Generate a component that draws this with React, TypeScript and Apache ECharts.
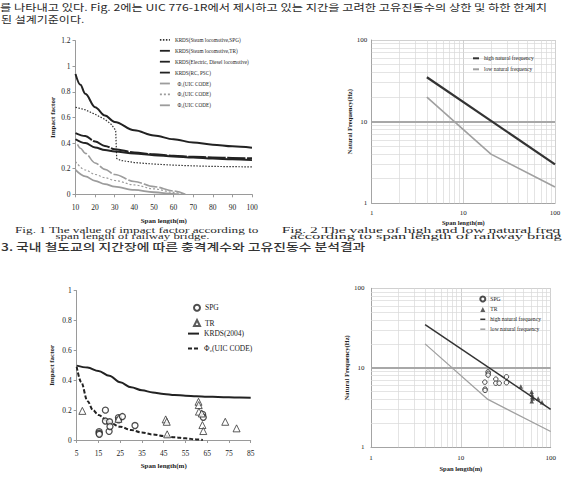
import React, { useEffect, useRef } from "react";
import * as echarts from "echarts";

// ---- page text ----
const bodyLine1 =
  "를 나타내고 있다. Fig. 2에는 UIC 776-1R에서 제시하고 있는 지간을 고려한 고유진동수의 상한 및 하한 한계치";
const bodyLine2 = "된 설계기준이다.";
const fig1Caption = ["Fig. 1 The value of impact factor according to", "span length of railway bridge."];
const fig2Caption = ["Fig. 2 The value of high and low natural freq", "according to span length of railway bridg"];
const sectionTitle = "3. 국내 철도교의 지간장에 따른 충격계수와 고유진동수 분석결과";

// ---- Fig. 1: impact factor vs span length (m) ----
const fig1Names = [
  "KRDS(Steam locomotive,SPG)",
  "KRDS(Steam locomotive,TR)",
  "KRDS(Electric, Diesel locomotive)",
  "KRDS(RC, PSC)",
  "Φ₁(UIC CODE)",
  "Φ₂(UIC CODE)",
  "Φ₃(UIC CODE)",
];
const steamSPG = [
  [10, 0.68], [15, 0.66], [20, 0.625], [25, 0.585], [28, 0.55], [30.5, 0.5], [31, 0.28],
  [33, 0.265], [40, 0.248], [50, 0.236], [60, 0.228], [70, 0.222], [80, 0.218], [90, 0.216], [100, 0.214],
];
const steamTR = [
  [10, 0.94], [12.5, 0.855], [15, 0.785], [20, 0.68], [25, 0.615], [30, 0.565], [40, 0.5],
  [50, 0.46], [60, 0.43], [70, 0.405], [80, 0.388], [90, 0.375], [100, 0.363],
];
const electricDiesel = [
  [10, 0.478], [15, 0.455], [20, 0.412], [25, 0.378], [30, 0.352], [40, 0.327], [50, 0.312],
  [60, 0.301], [70, 0.293], [80, 0.288], [90, 0.284], [100, 0.281],
];
const rcPsc = [
  [10, 0.43], [15, 0.4], [20, 0.366], [25, 0.346], [30, 0.334], [40, 0.318], [50, 0.306],
  [60, 0.296], [70, 0.288], [80, 0.28], [90, 0.273], [100, 0.267],
];
const uicPhi1 = [[10, 0.19], [15, 0.14], [20, 0.105], [25, 0.08], [30, 0.06], [40, 0.034], [50, 0.016], [60, 0.004], [63, 0]];
const uicPhi2 = [[10, 0.256], [15, 0.19], [20, 0.155], [25, 0.13], [30, 0.108], [40, 0.073], [50, 0.042], [60, 0.015], [65, 0]];
const uicPhi3 = [[11, 0.39], [12.5, 0.36], [15, 0.32], [20, 0.245], [25, 0.195], [30, 0.155], [40, 0.1], [50, 0.06], [60, 0.026], [66, 0]];

// ---- natural frequency limits (span m, Hz) ----
const highFreq = [[4, 35], [100, 3.0]];
const lowFreq = [[4, 20], [20, 4.0], [100, 1.58]];
const logMinorTicks = [2, 3, 4, 5, 6, 7, 8, 9, 20, 30, 40, 50, 60, 70, 80, 90];

// ---- measured bridges: impact factor ----
const spanTicks = [5, 15, 25, 35, 45, 55, 65, 75, 85];
const krds2004 = [
  [5, 0.498], [10, 0.485], [15, 0.462], [20, 0.43], [25, 0.386], [30, 0.353], [35, 0.333],
  [40, 0.318], [45, 0.308], [50, 0.301], [55, 0.297], [60, 0.293], [65, 0.29], [70, 0.288],
  [75, 0.286], [80, 0.284], [85, 0.283],
];
const uicPhi2Measured = [
  [5, 0.49], [7, 0.39], [10, 0.26], [12.5, 0.2], [15, 0.167], [20, 0.118], [25, 0.089], [30, 0.067],
  [35, 0.05], [40, 0.037], [45, 0.027], [50, 0.018], [55, 0.011], [60, 0.004], [63, 0],
];
const spgImpact = [
  [15.3, 0.056], [15.3, 0.045], [15.4, 0.038], [18.2, 0.2], [18.2, 0.127], [19.9, 0.058],
  [20.1, 0.122], [20.3, 0.09], [24.2, 0.15], [24.3, 0.135], [26, 0.157], [31.8, 0.097],
  [62.9, 0.172], [63.2, 0.152],
];
const trImpact = [
  [7.6, 0.195], [24.2, 0.142], [45.9, 0.138], [46.4, 0.122], [46.6, 0.038], [61, 0.256],
  [61.1, 0.234], [61.2, 0.19], [62.5, 0.178], [62.8, 0.1], [63.2, 0.06], [73.3, 0.122], [78.5, 0.078],
];

// ---- measured bridges: natural frequency ----
const spgFreq = [
  [20.1, 8.9], [20.2, 8.5], [20.1, 8.1], [18.5, 6.6], [18.6, 5.4], [18.6, 5.2], [24.5, 7.2],
  [24.5, 6.4], [26.7, 6.4], [32.2, 7.7], [32.2, 6.5],
];
const trFreq = [
  [46.5, 5.8], [61.3, 5.0], [61.8, 4.6], [62.3, 4.3], [61.5, 3.8], [63, 4.1], [72.6, 4.1], [80, 3.7],
];

const SERIF = '"Liberation Serif", "Times New Roman", serif';
const CJK = '"Noto Sans CJK KR", "Noto Sans", sans-serif';
const INK = "#222";
const AXIS = "#9a9a9a";
const GREY = "#9c9c9c";

function nameStyle(size: number) {
  return { fontFamily: SERIF, fontWeight: "bold", fontSize: size, color: INK };
}

function linearAxis(gridIndex: number, min: number, max: number, interval: number | undefined,
  name: string, nameGap: number, labelMargin: number, custom?: number[]) {
  return {
    type: "value", gridIndex, min, max, interval,
    name, nameLocation: "middle", nameGap, nameTextStyle: nameStyle(7),
    axisLine: { show: true, lineStyle: { color: AXIS, width: 1 } },
    axisTick: { show: true, length: 3, lineStyle: { color: AXIS }, ...(custom ? { customValues: custom } : {}) },
    axisLabel: { fontFamily: SERIF, fontSize: 7.5, color: INK, margin: labelMargin, ...(custom ? { customValues: custom } : {}) },
    splitLine: { show: false },
  };
}

function logAxis(gridIndex: number, name: string, nameGap: number, labelMargin: number) {
  return {
    type: "log", logBase: 10, gridIndex, min: 1, max: 100,
    name, nameLocation: "middle", nameGap, nameTextStyle: nameStyle(6.5),
    axisLine: { show: true, lineStyle: { color: "#a4a4a4", width: 1 } },
    axisTick: { show: false },
    axisLabel: { fontFamily: SERIF, fontSize: 7, color: INK, margin: labelMargin },
    splitLine: { show: true, lineStyle: { color: "#c4c4c4", width: 0.8 } },
  };
}

// line series; the transparent item colour keeps the legend sample a plain line
function curve(name: string, data: number[][], idx: number, lineStyle: any, smooth = true) {
  return {
    type: "line", name, data, xAxisIndex: idx, yAxisIndex: idx, symbol: "none",
    smooth: smooth ? 0.35 : false, smoothMonotone: "x", lineStyle,
    itemStyle: { color: "transparent" }, z: 3,
  };
}

function dots(name: string, data: number[][], idx: number, symbol: string, size: number, itemStyle: any) {
  return { type: "scatter", name, data, xAxisIndex: idx, yAxisIndex: idx, symbol, symbolSize: size, itemStyle, z: 4 };
}

// minor log grid plus the heavier 10 Hz line, drawn beneath the curves
function logGrid(idx: number) {
  return {
    type: "line", name: "grid" + idx, data: [], xAxisIndex: idx, yAxisIndex: idx, silent: true, z: 1,
    markLine: {
      silent: true, z: 1, symbol: ["none", "none"], label: { show: false },
      lineStyle: { type: "solid", color: "#d9d9d9", width: 0.7 },
      emphasis: { disabled: true },
      data: [
        ...logMinorTicks.map((v) => ({ xAxis: v })),
        ...logMinorTicks.map((v) => ({ yAxis: v })),
        { yAxis: 10, lineStyle: { type: "solid", color: "#a8a8a8", width: 2 } },
      ],
    },
  };
}

function pageText(text: string, x: number, y: number, size: number, family: string, align: string,
  scaleX: number, scaleY: number, weight = "normal", color = "#2a2a2a") {
  return {
    type: "text", x, y, scaleX, scaleY, silent: true,
    style: {
      text, fontSize: size, fontFamily: family, fontWeight: weight, fill: color,
      textAlign: align, align, textVerticalAlign: "middle", verticalAlign: "middle",
    },
  };
}

function buildOption() {
  const legendBase = { orient: "vertical", selectedMode: false, padding: 0, inactiveColor: "#222" };
  const lineLegendStyle = { width: 2 };
  return {
    animation: false,
    backgroundColor: "#fff",
    grid: [
      { left: 75.5, top: 40.7, width: 176.5, height: 153.6, outerBoundsMode: "none" },
      { left: 371.7, top: 40, width: 183.3, height: 163.3, outerBoundsMode: "none" },
      { left: 76.7, top: 290.7, width: 174, height: 149.3, outerBoundsMode: "none" },
      { left: 371, top: 288.3, width: 179.7, height: 159, outerBoundsMode: "none" },
    ],
    xAxis: [
      linearAxis(0, 10, 100, 10, "Span length(m)", 23, 9),
      logAxis(1, "Span length(m)", 15.5, 6),
      linearAxis(2, 5, 85, undefined, "Span length(m)", 22, 9.5, spanTicks),
      logAxis(3, "Span length(m)", 17.5, 7.5),
    ],
    yAxis: [
      linearAxis(0, 0, 1.2, 0.2, "Impact factor", 19, 5),
      logAxis(1, "Natural Frequency(Hz)", 16.5, 4.5),
      linearAxis(2, 0, 1, 0.2, "Impact factor", 21.5, 5),
      logAxis(3, "Natural Frequency(Hz)", 16.5, 6.5),
    ],
    legend: [
      {
        ...legendBase, left: 159, top: 36.7, itemWidth: 10, itemHeight: 8, itemGap: 4.5,
        lineStyle: { width: 1.8 },
        textStyle: { fontFamily: SERIF, fontSize: 5.2, color: INK },
        formatter: (n: string) => (n.startsWith("Φ") ? "  " + n : n),
        data: fig1Names,
      },
      {
        ...legendBase, left: 472, top: 55.3, itemWidth: 6, itemHeight: 6, itemGap: 5,
        lineStyle: lineLegendStyle,
        textStyle: { fontFamily: SERIF, fontSize: 5.5, color: INK },
        data: ["high natural frequency", "low natural frequency"],
      },
      {
        ...legendBase, left: 193, top: 303.7, itemWidth: 6, itemHeight: 6, itemGap: 7.3,
        textStyle: { fontFamily: SERIF, fontSize: 7.5, color: INK },
        data: ["SPG", "TR"],
      },
      {
        ...legendBase, left: 187, top: 329.6, itemWidth: 11, itemHeight: 7, itemGap: 6.9,
        lineStyle: lineLegendStyle,
        textStyle: { fontFamily: SERIF, fontSize: 7.5, color: INK },
        data: [
          "KRDS(2004)",
          { name: "Φ₂(UIC CODE)", lineStyle: { color: INK, type: [4, 2], width: 2 } },
        ],
      },
      {
        ...legendBase, left: 479.3, top: 295.5, itemWidth: 5, itemHeight: 5, itemGap: 3.9,
        lineStyle: { width: 1.5 },
        textStyle: { fontFamily: SERIF, fontSize: 5.6, color: INK },
        data: [
          "SPG",
          { name: "TR", itemStyle: { color: "#333", borderWidth: 0 } },
          "high natural frequency",
          "low natural frequency",
        ],
      },
    ],
    series: [
      curve(fig1Names[0], steamSPG, 0, { color: "#333", width: 1.2, type: [1.5, 1.5] }, false),
      curve(fig1Names[1], steamTR, 0, { color: INK, width: 2 }),
      curve(fig1Names[2], electricDiesel, 0, { color: INK, width: 2, type: [18, 1.5] }),
      curve(fig1Names[3], rcPsc, 0, { color: INK, width: 2 }),
      curve(fig1Names[4], uicPhi1, 0, { color: GREY, width: 1.8 }),
      curve(fig1Names[5], uicPhi2, 0, { color: GREY, width: 1.2, type: [2, 2] }),
      curve(fig1Names[6], uicPhi3, 0, { color: GREY, width: 1.6, type: [14, 2] }),

      logGrid(1),
      curve("high natural frequency", highFreq, 1, { color: "#333", width: 2.2 }, false),
      curve("low natural frequency", lowFreq, 1, { color: "#a0a0a0", width: 1.6 }, false),

      dots("SPG", spgImpact, 2, "circle", 6, { color: "#fff", borderColor: INK, borderWidth: 1.3 }),
      dots("TR", trImpact, 2, "triangle", 7, { color: "#fff", borderColor: "#333", borderWidth: 1 }),
      curve("KRDS(2004)", krds2004, 2, { color: INK, width: 2 }),
      curve("Φ₂(UIC CODE)", uicPhi2Measured, 2, { color: INK, width: 2, type: [4, 2] }),

      logGrid(3),
      curve("high natural frequency", highFreq, 3, { color: "#333", width: 1.5 }, false),
      curve("low natural frequency", lowFreq, 3, { color: "#a0a0a0", width: 1.3 }, false),
      dots("SPG", spgFreq, 3, "circle", 4.5, { color: "#fff", borderColor: INK, borderWidth: 1 }),
      dots("TR", trFreq, 3, "triangle", 4.5, { color: "#333" }),
    ],
    graphic: [
      pageText(bodyLine1, 0, 7, 12, CJK, "left", 1.02, 0.8),
      pageText(bodyLine2, 1, 18.5, 12, CJK, "left", 1, 0.8),
      pageText(fig1Caption[0], 136.7, 230, 12.5, SERIF, "center", 1.06, 0.62),
      pageText(fig1Caption[1], 132.5, 236.6, 12.5, SERIF, "center", 1.03, 0.62),
      pageText(fig2Caption[0], 281.7, 230, 12.5, SERIF, "left", 1.24, 0.62),
      pageText(fig2Caption[1], 290, 236.6, 12.5, SERIF, "left", 1.32, 0.62),
      pageText(sectionTitle, 1, 246.5, 13.3, CJK, "left", 1.04, 0.8, "500", "#333"),
    ],
  };
}

export default function App() {
  const ref = useRef<HTMLDivElement>(null);
  useEffect(() => {
    if (!ref.current) return;
    const chart = echarts.init(ref.current, null, { renderer: "svg" });
    chart.setOption(buildOption() as any);
    return () => chart.dispose();
  }, []);
  return (
    <div
      ref={ref}
      style={{ position: "fixed", left: 0, top: 0, width: 569, height: 480, background: "#fff" }}
    />
  );
}
